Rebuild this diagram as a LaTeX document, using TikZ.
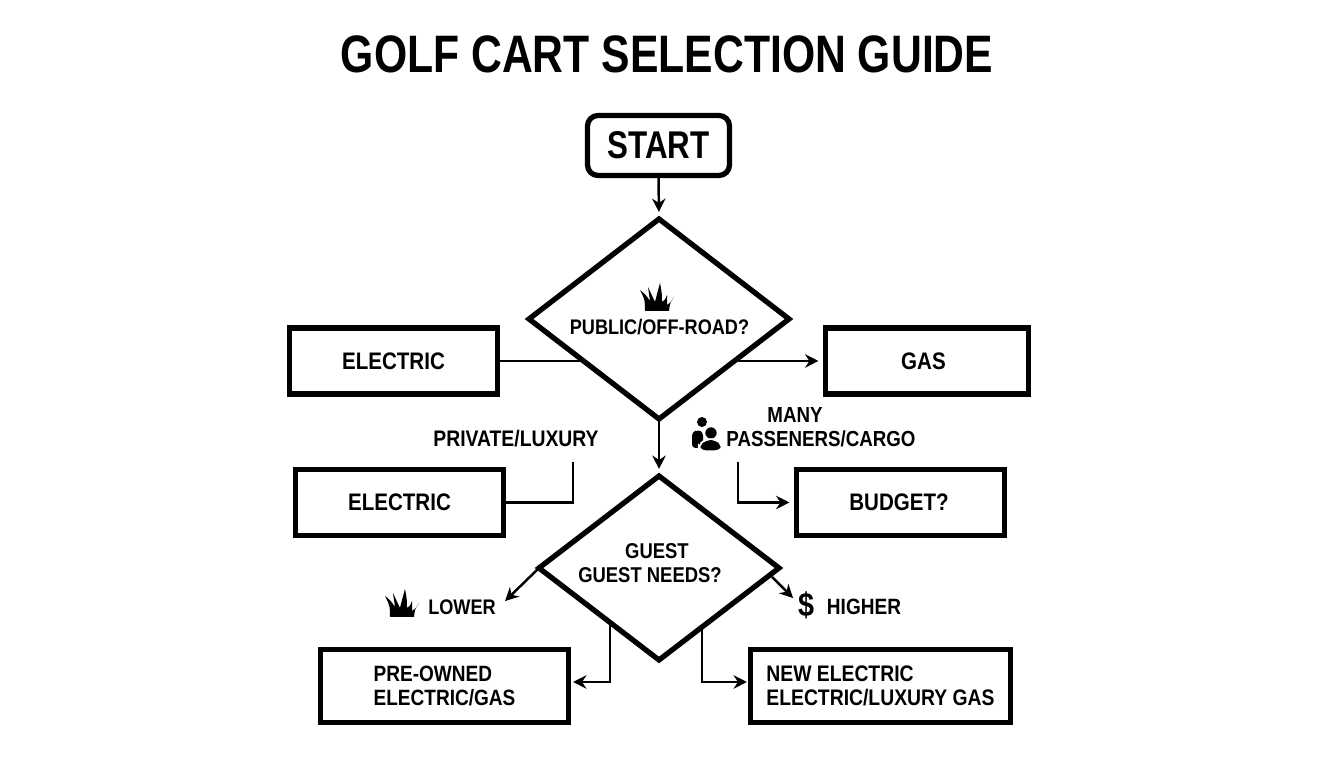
\documentclass[tikz,border=0pt]{standalone}
\usepackage{fontspec}
\setmainfont{Liberation Sans}[FakeStretch=0.86]
\newfontfamily\titlefont{Liberation Sans}[FakeStretch=0.81]
\usetikzlibrary{shapes.geometric,arrows.meta}
\newcommand{\fs}[1]{\fontsize{#1}{6.8}\selectfont\bfseries}
\tikzset{
    boxed/.style 2 args={draw,line width=1.5pt,outer sep=0pt,inner sep=0pt,align=left,
        minimum width=#1 cm,minimum height=#2 cm,font=\fs{6.8}},
    choice/.style 2 args={draw,diamond,line width=1.5pt,outer sep=0pt,inner sep=0pt,
        minimum width=#1 cm,minimum height=#2 cm},
    lbl/.style={inner sep=0pt,align=center,font=\fs{6.2}},
    conn/.style={line width=0.7pt},
    arr/.style={conn,-{Stealth[length=3.8pt,width=3.8pt]},shorten >=2pt},
    grass/.pic={
        \fill (-0.12,0) .. controls (-0.12,0.11) .. (-0.17,0.21) .. controls (-0.11,0.16) .. (-0.07,0.10)
            .. controls (-0.08,0.17) .. (-0.09,0.24) .. controls (-0.05,0.17) .. (-0.02,0.09)
            .. controls (0,0.17) .. (0.03,0.28) .. controls (0.05,0.17) .. (0.05,0.09)
            .. controls (0.08,0.11) .. (0.10,0.16) .. controls (0.10,0.10) .. (0.10,0.06)
            .. controls (0.14,0.09) .. (0.17,0.14) .. controls (0.13,0.08) .. (0.12,0) -- cycle;
    }
}
\begin{document}
\begin{tikzpicture}
    \useasboundingbox (0,0) rectangle (13.44,7.68);
    \node[lbl,font=\fontsize{15}{15}\selectfont\titlefont\bfseries] (title) at (6.67,7.14) {GOLF CART SELECTION GUIDE};

    \node[boxed={1.42}{0.60},rounded corners=3pt,font=\fontsize{11}{11}\selectfont\titlefont\bfseries] (start) at (6.585,6.225) {START};
    \node[choice={2.60}{2.00}] (dA) at (6.59,4.49) {};
    \node[lbl,font=\fs{6.0}] (dAtxt) at (6.595,4.41) {PUBLIC/OFF-ROAD?};
    \pic at (6.57,4.57) {grass};

    \node[boxed={2.08}{0.66}] (elecA) at (3.935,4.07) {ELECTRIC};
    \node[boxed={2.03}{0.66}] (gasA) at (9.27,4.07) {GAS\hspace*{0.07cm}};
    \node[boxed={2.08}{0.66}] (elecB) at (3.995,2.655) {ELECTRIC};
    \node[boxed={2.08}{0.66}] (budget) at (9.005,2.655) {BUDGET?\hspace*{0.03cm}};

    \node[choice={2.40}{1.84}] (dB) at (6.59,2.00) {};
    \node[lbl,font=\fs{6.1}] (dBa) at (6.57,2.17) {GUEST};
    \node[lbl,font=\fs{6.1}] (dBb) at (6.50,1.93) {GUEST NEEDS?};

    \node[boxed={2.48}{0.73},font=\fs{6.3}] (pre) at (4.445,0.82) {PRE-OWNED\\ELECTRIC/GAS};
    \node[boxed={2.60}{0.73},font=\fs{6.4}] (newB) at (8.805,0.82) {NEW ELECTRIC\\ELECTRIC/LUXURY GAS};

    \node[lbl,font=\fs{6.4}] (priv) at (5.16,3.29) {PRIVATE/LUXURY};
    \node[lbl] (many) at (7.95,3.53) {MANY};
    \node[lbl] (pass) at (8.21,3.29) {PASSENERS/CARGO};
    \node[lbl,font=\fs{6.0}] (lower) at (4.62,1.61) {LOWER};
    \node[lbl,font=\fs{6.3}] (higher) at (8.64,1.61) {HIGHER};
    \node[lbl,font=\fs{9.5}] (dollar) at (8.06,1.63) {\$};
    \pic at (4.02,1.51) {grass};

    % people icon
    \fill (7.02,3.46) circle (0.05);
    \fill[rounded corners=1pt] (6.92,3.20) -- (6.92,3.36) -- (6.98,3.38) -- (7.03,3.36) -- (7.03,3.20) -- cycle;
    \fill[draw=white,line width=0.4pt] (7.11,3.35) circle (0.065);
    \fill[draw=white,line width=0.4pt,rounded corners=2pt] (6.985,3.17) -- (6.985,3.23) -- (7.06,3.29) -- (7.16,3.29) -- (7.225,3.23) -- (7.225,3.17) -- cycle;

    \coordinate (dAl) at (5.82,4.07);
    \coordinate (dAr) at (7.38,4.07);
    \coordinate (privEnd) at (5.73,3.06);
    \coordinate (passEnd) at (7.38,3.06);
    \coordinate (lowEnd) at (5.00,1.62);
    \coordinate (highStart) at (7.72,1.91);
    \coordinate (highEnd) at (7.98,1.65);
    \coordinate (preStart) at (6.10,1.43);
    \coordinate (preEnd) at (5.66,0.86);
    \coordinate (newStart) at (7.02,1.39);
    \coordinate (newEnd) at (7.54,0.86);

    \draw[arr] (start.south) -- (dA.north);
    \draw[arr] (dA.south) -- (dB.north);
    \draw[conn] (elecA.east) -- (dAl);
    \draw[arr] (dAr) -- (gasA.west);
    \draw[conn] (privEnd) |- (elecB.east);
    \draw[arr] (passEnd) |- (budget.west);
    \draw[arr] (dB.west) -- (lowEnd);
    \draw[arr] (highStart) -- (highEnd);
    \draw[arr] (preStart) |- (preEnd);
    \draw[arr] (newStart) |- (newEnd);
\end{tikzpicture}
\end{document}
